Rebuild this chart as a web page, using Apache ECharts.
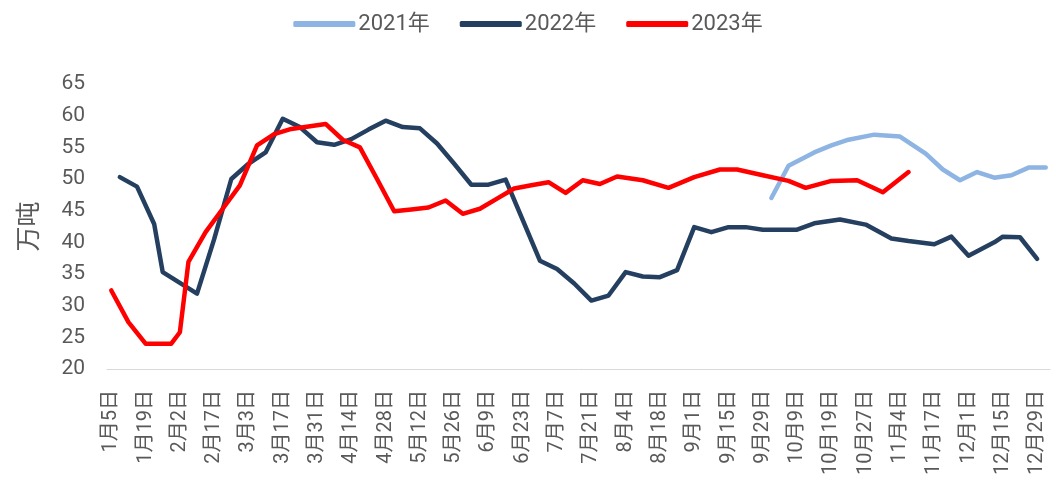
<!DOCTYPE html>
<html>
<head>
<meta charset="utf-8">
<script src="https://cdn.jsdelivr.net/npm/echarts@6/dist/echarts.min.js"></script>
<style>
  html, body { margin: 0; padding: 0; background: #fff; }
  #chart { width: 1056px; height: 504px; }
</style>
</head>
<body>
<div id="chart"></div>
<script>
// tick labels shown on the x axis (every 4th slot of the category axis)
const tickLabels = ['1月5日', '1月19日', '2月2日', '2月17日', '3月3日', '3月17日', '3月31日', '4月14日',
  '4月28日', '5月12日', '5月26日', '6月9日', '6月23日', '7月7日', '7月21日', '8月4日', '8月18日',
  '9月1日', '9月15日', '9月29日', '10月9日', '10月19日', '10月27日', '11月4日', '11月17日',
  '12月1日', '12月15日', '12月29日']
const slotCount = 110

// series: slot index on the category axis + value (万吨)
const pos2021 = [77, 79, 82, 84, 86, 89, 92, 95, 97, 99, 101, 103, 105, 107, 109]
const val2021 = [47.0, 52.1, 54.2, 55.3, 56.2, 57.0, 56.7, 54.0, 51.5, 49.8, 51.1, 50.2, 50.6, 51.8, 51.8]

const pos2022 = [1, 3, 5, 6, 10, 12, 14, 16, 18, 20, 22, 24, 26, 28, 30, 32, 34, 36, 38, 40,
  42, 44, 46, 48, 50, 52, 54, 56, 58, 60, 62, 64, 66, 68, 70, 72, 74, 76, 78, 80,
  82, 85, 88, 91, 93, 96, 98, 100, 103, 104, 106, 108]
const val2022 = [50.3, 48.8, 42.9, 35.3, 31.9, 40.5, 50.0, 52.4, 54.2, 59.5,
  58.2, 55.8, 55.4, 56.3, 57.8, 59.2, 58.2, 58.0, 55.6, 52.4,
  49.1, 49.1, 49.9, 43.5, 37.1, 35.8, 33.5, 30.8, 31.6, 35.3,
  34.6, 34.5, 35.6, 42.4, 41.6, 42.4, 42.4, 42.0, 42.0, 42.0,
  43.0, 43.6, 42.8, 40.6, 40.2, 39.7, 40.9, 37.9, 40.0, 40.9,
  40.8, 37.4]

const pos2023 = [0, 2, 4, 7, 8, 9, 11, 13, 15, 17, 19, 21, 23, 25, 27, 29, 31, 33, 35, 37,
  39, 41, 43, 45, 47, 49, 51, 53, 55, 57, 59, 62, 65, 68, 71, 73, 76, 79, 81, 84,
  87, 90, 93]
const val2023 = [32.4, 27.4, 24.0, 24.0, 25.8, 36.9, 41.6, 45.3, 49.0, 55.3,
  57.1, 57.9, 58.3, 58.7, 56.2, 55.0, 50.0, 44.9, 45.2, 45.5,
  46.6, 44.5, 45.3, 46.9, 48.5, 49.0, 49.5, 47.8, 49.8, 49.2,
  50.4, 49.8, 48.6, 50.3, 51.5, 51.5, 50.6, 49.7, 48.6, 49.7,
  49.8, 47.9, 51.1]

const seriesNames = ['2021年', '2022年', '2023年']
const colors = ['#8db4e2', '#243f60', '#ff0000']

// category slots: named ones carry the tick label, the rest are hidden
const slots = []
for (let j = 0; j < slotCount; j++) {
  slots.push(j % 4 === 0 ? tickLabels[j / 4] : tickLabels[Math.floor(j / 4)] + '#' + (j % 4))
}

const font = 'Roboto, "Noto Sans CJK SC", sans-serif'
const textColor = '#595959'

function pairs(pos, val) {
  return pos.map((p, i) => [p, val[i]])
}

function lineSeries(idx, data) {
  return {
    name: seriesNames[idx],
    type: 'line',
    data: data,
    showSymbol: false,
    symbol: 'none',
    lineStyle: { width: 4.5, color: colors[idx], cap: 'round', join: 'round' },
    itemStyle: { color: colors[idx] },
    z: 2 + idx
  }
}

const chart = echarts.init(document.getElementById('chart'), null, { renderer: 'canvas' })
chart.setOption({
  animation: false,
  backgroundColor: '#fff',
  color: colors,
  textStyle: { fontFamily: font },
  legend: {
    top: 8,
    left: 'center',
    icon: 'roundRect',
    itemWidth: 62,
    itemHeight: 6,
    itemGap: 30,
    textStyle: { color: textColor, fontSize: 22, fontFamily: font, padding: [0, 0, 0, -2] },
    data: seriesNames
  },
  grid: { left: 107, right: 6, top: 84, bottom: 135 },
  xAxis: {
    type: 'category',
    data: slots,
    boundaryGap: true,
    axisLine: { lineStyle: { color: '#d9d9d9', width: 1 } },
    axisTick: { show: false },
    axisLabel: {
      interval: 3,
      rotate: 90,
      margin: 21,
      color: textColor,
      fontSize: 20,
      fontFamily: font,
      formatter: v => (v.indexOf('#') >= 0 ? '' : v)
    },
    splitLine: { show: false }
  },
  yAxis: {
    type: 'value',
    min: 20,
    max: 65,
    interval: 5,
    name: '万吨',
    nameLocation: 'middle',
    nameGap: 64,
    nameTextStyle: { color: textColor, fontSize: 25, fontFamily: font },
    axisLine: { show: false },
    axisTick: { show: false },
    axisLabel: { color: textColor, fontSize: 21, margin: 22, fontFamily: font },
    splitLine: { show: false }
  },
  series: [
    lineSeries(0, pairs(pos2021, val2021)),
    lineSeries(1, pairs(pos2022, val2022)),
    lineSeries(2, pairs(pos2023, val2023))
  ]
})
</script>
</body>
</html>
